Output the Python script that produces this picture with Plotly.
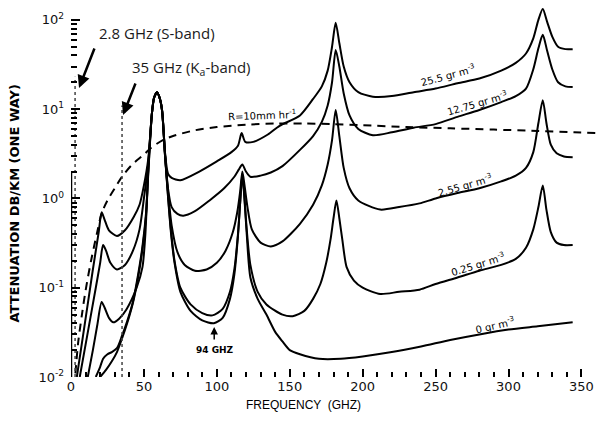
import plotly.graph_objects as go

# ---------------- data ----------------
f_255 = [4, 10, 15, 19, 21, 23, 26, 31.5, 37, 43, 47, 50, 53, 55.5, 57, 59, 61, 62.5, 64.5, 66.5, 69, 75,
         88, 100, 110, 114.5, 117, 119.5, 125, 135, 143, 157, 166, 172, 176, 179, 181.5, 184, 187, 191,
         197, 207, 220, 235, 250, 265, 280, 295, 305, 312, 317, 320.5, 323.5, 326.5, 330, 334, 339, 344]
a_255 = [0.01, 0.045, 0.16, 0.42, 0.70, 0.58, 0.44, 0.38, 0.44, 0.62, 0.85, 1.4, 2.8, 9, 13.5, 15.5, 13, 9.5,
         3.2, 1.9, 1.7, 1.6, 2.0, 2.6, 3.3, 3.9, 5.4, 4.3, 4.3, 5.2, 6.5, 8.5, 13, 18, 27, 50, 93, 55, 30,
         20, 15.5, 13.8, 14, 15.5, 17, 19.5, 22, 27, 33, 42, 62, 100, 132, 95, 65, 50, 47, 47]

f_1275 = [6, 12, 17, 20, 22, 24, 27, 31.5, 37, 42.5, 47, 50, 53, 55.5, 57, 59, 61, 62.5, 64.5, 66.5, 69,
          73, 77, 85, 95, 105, 112, 115, 117.5, 120, 123, 130, 137, 145, 157, 166, 172, 176, 179, 181.5,
          184, 187, 191, 197, 207, 220, 235, 250, 265, 280, 295, 305, 312, 317, 320.5, 323.5, 326.5, 330,
          334, 339, 344]
a_1275 = [0.01, 0.035, 0.10, 0.19, 0.30, 0.26, 0.19, 0.16, 0.18, 0.26, 0.45, 1.0, 2.5, 9, 13.5, 15.5, 13,
          9.5, 3.2, 1.3, 0.8, 0.67, 0.64, 0.72, 0.95, 1.3, 1.75, 2.1, 2.4, 2.0, 1.75, 1.8, 1.95, 2.3, 3.5,
          5.0, 7.2, 11, 20, 46, 30, 15, 8.5, 6.0, 5.1, 5.5, 6.2, 6.8, 8.2, 9.8, 12, 14, 17, 28, 48, 68, 45,
          28, 20, 18, 17.7]

f_255b = [11.5, 15, 18, 21, 23, 26, 29, 33, 38, 45, 49, 51, 53, 55.5, 57, 59, 61, 62.5, 64.5, 66.5, 69,
          73, 78, 85, 93, 100, 106, 111, 114, 116, 117.5, 119, 121, 124, 130, 137, 145, 157, 166, 172, 176,
          179, 181.5, 184, 187, 191, 197, 212, 225, 239, 250, 265, 280, 295, 305, 312, 317, 320.5, 323.5,
          326, 329, 333, 338, 344]
a_255b = [0.01, 0.02, 0.038, 0.069, 0.06, 0.046, 0.041, 0.045, 0.057, 0.10, 0.17, 0.4, 2.2, 9, 13.5, 15.5,
          13, 9.5, 3.0, 1.2, 0.5, 0.25, 0.18, 0.155, 0.16, 0.19, 0.26, 0.42, 0.7, 1.2, 2.0, 1.4, 0.8, 0.45,
          0.32, 0.29, 0.33, 0.52, 0.85, 1.4, 2.4, 4.5, 9.8, 5, 2.2, 1.3, 0.95, 0.75, 0.8, 0.88, 1.0, 1.15,
          1.3, 1.55, 1.8, 2.2, 3.3, 7, 12.6, 7, 4, 3.2, 2.95, 2.9]

f_025 = [17, 20, 22, 25, 28, 31.5, 35, 38.5, 42.5, 46, 49, 51.5, 53, 55.5, 57, 59, 61, 62.5, 64.5, 66.5,
         68.5, 71, 75, 82, 90, 97, 104, 109, 112, 114.5, 116, 117.5, 119, 120.5, 123, 128, 134, 145, 152,
         160, 166, 171, 175, 178, 180, 182, 184, 186, 189, 194, 200, 212, 225, 239, 250, 265, 280, 295,
         305, 312, 317, 320.5, 323.5, 326, 329, 333, 338, 344]
a_025 = [0.01, 0.013, 0.016, 0.018, 0.019, 0.021, 0.029, 0.042, 0.07, 0.14, 0.29, 0.7, 2.0, 9, 13.5, 15.5,
         13, 9.5, 3.0, 1.1, 0.45, 0.2, 0.1, 0.065, 0.052, 0.049, 0.058, 0.09, 0.16, 0.4, 0.9, 1.9, 1.0,
         0.45, 0.18, 0.09, 0.065, 0.05, 0.048, 0.055, 0.075, 0.11, 0.19, 0.35, 0.6, 0.95, 0.6, 0.35, 0.17,
         0.12, 0.1, 0.085, 0.09, 0.095, 0.11, 0.13, 0.155, 0.18, 0.21, 0.28, 0.45, 0.8, 1.4, 0.75, 0.42,
         0.32, 0.3, 0.3]

f_0 = [20, 24, 28, 31.5, 35, 38.5, 42.5, 46, 49, 51.5, 53, 55.5, 57, 59, 61, 62.5, 64.5, 66.5, 68.5, 71,
       75, 82, 90, 98, 104, 109, 112, 114.5, 116, 117.5, 119, 120.5, 123, 128, 134, 140, 145, 150, 157,
       170, 185, 200, 220, 240, 260, 280, 300, 320, 344]
a_0 = [0.01, 0.012, 0.015, 0.019, 0.027, 0.04, 0.068, 0.13, 0.27, 0.65, 1.9, 9, 13.5, 15.5, 13, 9.5, 3.0,
       1.05, 0.42, 0.19, 0.09, 0.055, 0.043, 0.04, 0.046, 0.075, 0.14, 0.38, 0.9, 1.85, 0.95, 0.4, 0.13,
       0.075, 0.05, 0.032, 0.025, 0.02, 0.018, 0.016, 0.016, 0.017, 0.019, 0.022, 0.026, 0.03, 0.034,
       0.037, 0.041]

f_rain = [3, 5, 7.5, 10, 14, 18, 21, 25, 30, 35, 42, 50, 55, 63, 70, 85, 100, 120, 140, 160, 180, 200,
          230, 260, 290, 320, 345, 360]
a_rain = [0.011, 0.025, 0.05, 0.093, 0.21, 0.42, 0.68, 0.95, 1.3, 1.75, 2.4, 3.1, 3.7, 4.5, 5.0, 5.8,
          6.3, 6.7, 6.9, 6.9, 6.8, 6.6, 6.3, 6.1, 5.9, 5.7, 5.5, 5.4]

band_freqs = [2.8, 35]          # GHz, dotted markers
band_tops = [23, 11]            # dB/km, top of dotted markers

x_ticks = [0, 50, 100, 150, 200, 250, 300, 350]
x_minor = [v for v in range(10, 350, 10) if v % 50]
y_ticks = [0.01, 0.1, 1, 10, 100]
y_ticktext = ["10<sup>-2</sup>", "10<sup>-1</sup>", "10<sup>0</sup>", "10<sup>1</sup>", "10<sup>2</sup>"]
y_minor = [m * d for d in (0.01, 0.1, 1, 10) for m in range(2, 10)]

# ---------------- figure ----------------
fig = go.Figure()
LINE = dict(color="black", width=2, shape="spline", smoothing=0.7)
for fx, ay in [(f_255, a_255), (f_1275, a_1275), (f_255b, a_255b), (f_025, a_025), (f_0, a_0)]:
    fig.add_trace(go.Scatter(x=fx, y=ay, mode="lines", line=LINE, hoverinfo="skip"))
fig.add_trace(go.Scatter(x=f_rain, y=a_rain, mode="lines",
                         line=dict(color="black", width=2, dash="8px,6px", shape="spline", smoothing=0.8),
                         hoverinfo="skip"))
for bf, bt in zip(band_freqs, band_tops):
    fig.add_trace(go.Scatter(x=[bf, bf], y=[0.01, bt], mode="lines",
                             line=dict(color="#444", width=1.5, dash="dot"), hoverinfo="skip"))

TICKFONT = dict(family="DejaVu Sans", size=13, color="#111")
fig.update_xaxes(range=[0, 360], showgrid=False, zeroline=False, showline=False,
                 tickmode="array", tickvals=x_ticks, ticks="inside", ticklen=8, tickwidth=2,
                 tickcolor="black", tickfont=TICKFONT,
                 minor=dict(tickmode="array", tickvals=x_minor, ticks="inside", ticklen=5,
                            tickwidth=1.5, tickcolor="black"))
fig.update_yaxes(type="log", range=[-2, 2.2], showgrid=False, zeroline=False, showline=False,
                 tickmode="array", tickvals=y_ticks, ticktext=y_ticktext, ticks="inside",
                 ticklen=9, tickwidth=2, tickcolor="black", tickfont=TICKFONT, ticklabelstandoff=6,
                 minor=dict(tickmode="array", tickvals=y_minor, ticks="inside", ticklen=6,
                            tickwidth=1.5, tickcolor="black"))

# axis lines (only up to 10^2 and 350 GHz, as in the reference)
fig.add_shape(type="line", xref="x", yref="y", x0=0, x1=0, y0=-2, y1=2,
              line=dict(color="black", width=2.5))
fig.add_shape(type="line", xref="x", yref="y", x0=0, x1=350, y0=-2, y1=-2,
              line=dict(color="black", width=2.5))

LBL = dict(family="DejaVu Sans", size=10, color="black")
labels = [
    ("25.5 gr m<sup>-3</sup>", 258.5, 1.383, -15),
    ("12.75 gr m<sup>-3</sup>", 278.4, 1.07, -16),
    ("2.55 gr m<sup>-3</sup>", 270.2, 0.151, -16),
    ("0.25 gr m<sup>-3</sup>", 279.1, -0.734, -17),
    ("0 gr m<sup>-3</sup>", 290.8, -1.417, -13),
    ("R=10mm hr<sup>-1</sup>", 131, 0.94, -2),
]
for txt, x, y, ang in labels:
    fig.add_annotation(x=x, y=y, xref="x", yref="y", text=txt, showarrow=False,
                       textangle=ang, font=LBL)

fig.add_annotation(x=98.8, y=-1.70, xref="x", yref="y", text="<b>94 GHZ</b>", showarrow=False,
                   font=dict(family="DejaVu Sans", size=9, color="black"))
fig.add_annotation(x=98.2, y=-1.44, xref="x", yref="y", text="", showarrow=True, ax=0, ay=14,
                   arrowhead=2, arrowsize=1, arrowwidth=1.5, arrowcolor="black")

BAND = dict(family="Open Sans", size=15, color="#1a1a1a")
fig.add_annotation(x=17.8, y=1.853, xref="x", yref="y", text="2.8 GHz (S-band)", showarrow=False,
                   xanchor="left", font=BAND)
fig.add_annotation(x=40.5, y=1.461, xref="x", yref="y", text="35 GHz (K<sub>a</sub>-band)",
                   showarrow=False, xanchor="left", font=BAND)
fig.add_annotation(x=5.5, y=1.237, xref="x", yref="y", text="", showarrow=True, ax=16, ay=-41,
                   arrowhead=2, arrowsize=1, arrowwidth=2.5, arrowcolor="black")
fig.add_annotation(x=35.7, y=0.935, xref="x", yref="y", text="", showarrow=True, ax=13, ay=-33,
                   arrowhead=2, arrowsize=1, arrowwidth=2.5, arrowcolor="black")

# axis titles (paper coordinates so they are not hidden outside the data range)
fig.add_annotation(x=0.442, y=-0.075, xref="paper", yref="paper", xanchor="center", yanchor="middle",
                   text="FREQUENCY  (GHZ)", showarrow=False,
                   font=dict(family="Liberation Sans", size=12, color="black"))
fig.add_annotation(x=-0.107, y=0.462, xref="paper", yref="paper", xanchor="center", yanchor="middle",
                   text="<b>ATTENUATION DB/KM (ONE WAY)</b>", showarrow=False, textangle=-90,
                   font=dict(family="DejaVu Sans", size=13, color="black"))

fig.update_layout(width=596, height=425, margin=dict(l=71, r=0, t=2, b=48),
                  paper_bgcolor="white", plot_bgcolor="white", showlegend=False)
fig.write_html("out.html")
